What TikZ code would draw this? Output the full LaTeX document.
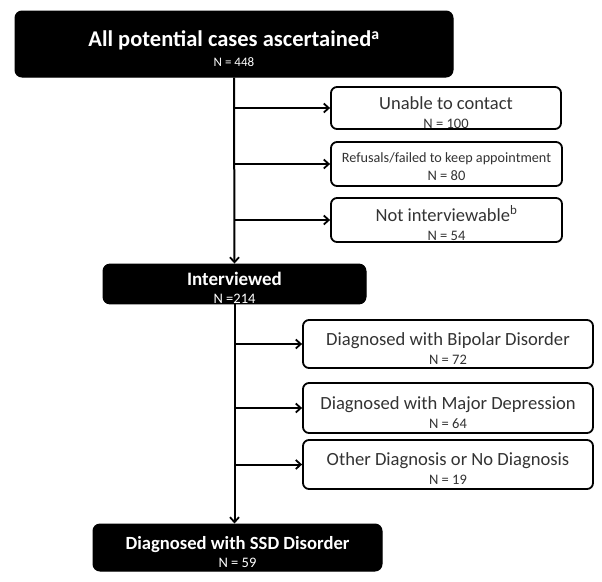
\documentclass[tikz,border=0pt]{standalone}
\usepackage{fontspec}
\setmainfont{Carlito}
\usetikzlibrary{arrows.meta}
\newcommand\lift{\rule{0pt}{1.15em}}
\begin{document}
\begin{tikzpicture}[x=1pt,y=-1pt,
  darkbox/.style={draw=black,fill=black,text=white,rounded corners=7pt,line width=1pt,inner sep=0pt,align=center},
  lightbox/.style={draw=black,fill=white,text=black!80,rounded corners=6pt,line width=1.8pt,inner sep=0pt,align=center},
  skip/.style={font={\fontsize{14.5}{#1}\selectfont}},
  link/.style={line width=2pt,-{Straight Barb[length=5pt,width=9pt,line width=1.8pt]}}]
\useasboundingbox (0,0) rectangle (602,581);
\node[darkbox,skip=20pt,minimum width=438pt,minimum height=66pt] (top) at (234,44)
  {{\fontsize{22.5}{20}\selectfont\bfseries\lift All potential cases ascertained\textsuperscript{a}}\\
   {\fontsize{13}{20}\selectfont N = 448}};
\node[lightbox,skip=19pt,minimum width=230pt,minimum height=42pt] (unable) at (446,108)
  {{\fontsize{18.5}{19}\selectfont\lift Unable to contact}\\N = 100};
\node[lightbox,skip=18pt,minimum width=231pt,minimum height=44pt] (refusal) at (446.5,164)
  {{\fontsize{14.2}{18}\selectfont\rule{0pt}{1em}Refusals/failed to keep appointment}\\N = 80};
\node[lightbox,skip=19pt,minimum width=231pt,minimum height=44pt] (notint) at (446.5,220)
  {{\fontsize{18.5}{19}\selectfont\lift Not interviewable\textsuperscript{b}}\\N = 54};
\node[darkbox,skip=18pt,minimum width=263pt,minimum height=39pt] (interv) at (234.5,284)
  {{\fontsize{19}{18}\selectfont\bfseries\lift Interviewed}\\N =214};
\node[lightbox,skip=19pt,minimum width=290pt,minimum height=48pt] (bipolar) at (448,344)
  {{\fontsize{18.6}{19}\selectfont\lift Diagnosed with Bipolar Disorder}\\N = 72};
\node[lightbox,skip=19pt,minimum width=290pt,minimum height=50pt] (major) at (448,408)
  {{\fontsize{18.6}{19}\selectfont\lift Diagnosed with Major Depression}\\N = 64};
\node[lightbox,skip=19pt,minimum width=290pt,minimum height=49pt] (other) at (448,464.5)
  {{\fontsize{18.6}{19}\selectfont\lift Other Diagnosis or No Diagnosis}\\N = 19};
\node[darkbox,skip=18pt,minimum width=289pt,minimum height=47pt] (ssd) at (237.5,547.5)
  {{\fontsize{18.6}{18}\selectfont\bfseries\lift Diagnosed with SSD Disorder}\\N = 59};
\draw[link] (top.south) -- (interv.north);
\draw[link] (top.south |- unable.west) -- (unable.west);
\draw[link] (top.south |- refusal.west) -- (refusal.west);
\draw[link] (top.south |- notint.west) -- (notint.west);
\draw[link] (interv.south) -- (interv.south |- ssd.north);
\draw[link] (interv.south |- bipolar.west) -- (bipolar.west);
\draw[link] (interv.south |- major.west) -- (major.west);
\draw[link] (interv.south |- other.west) -- (other.west);
\end{tikzpicture}
\end{document}
